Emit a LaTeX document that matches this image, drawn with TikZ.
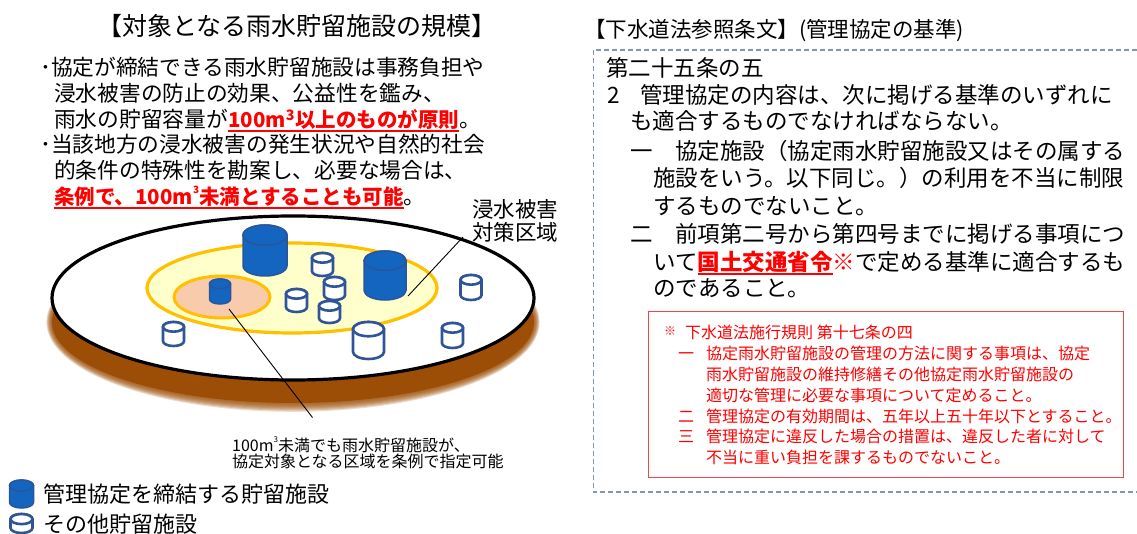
\documentclass[tikz,border=0pt]{standalone}
\usepackage{fontspec}
\usepackage{graphicx}
\setmainfont{Noto Sans CJK JP}

\definecolor{tankfill}{RGB}{20,101,192}
\definecolor{tankedge}{RGB}{40,86,156}
\definecolor{emptyedge}{RGB}{47,85,151}
\definecolor{soil}{RGB}{156,78,6}
\definecolor{zonefill}{RGB}{255,255,204}
\definecolor{zoneedge}{RGB}{255,192,0}
\definecolor{corefill}{RGB}{248,203,173}
\definecolor{frameblue}{RGB}{132,151,176}
\definecolor{noteedge}{RGB}{240,70,70}

% underline drawn as a rule under the text, in the current colour
\newsavebox\ulbox
\newcommand\ulred[1]{\sbox\ulbox{#1}\rlap{\rule[-0.2em]{\wd\ulbox}{0.09em}}\usebox\ulbox}
\newcommand\redbf[1]{{\color{red}\bfseries #1}}
\newcommand\cubic[1]{\raisebox{0.55em}{\fontsize{#1}{#1}\selectfont 3}}

% storage tank: style, centre x, top y, bottom y, width
\newcommand\tank[5]{%
  \pgfmathsetmacro\tankrx{#5/2}%
  \pgfmathsetmacro\tankry{#5*0.23}%
  \filldraw[#1] ({#2-\tankrx},{#3+\tankry}) -- ({#2-\tankrx},{#4-\tankry})
    arc[start angle=180,end angle=0,x radius=\tankrx,y radius=\tankry]
    -- ({#2+\tankrx},{#3+\tankry})
    arc[start angle=0,end angle=-180,x radius=\tankrx,y radius=\tankry] -- cycle;
  \filldraw[#1] (#2,{#3+\tankry}) ellipse[x radius=\tankrx,y radius=\tankry];
}

\tikzset{
  lbl/.style={inner sep=0pt, anchor=base west},
  ttl/.style={inner sep=0pt, anchor=base, font=\fontsize{25}{25}\selectfont},
  body/.style={lbl, font=\fontsize{21.7}{21.7}\selectfont},
  law/.style={lbl, font=\fontsize{22.5}{22.5}\selectfont},
  note/.style={lbl, font=\fontsize{16}{16}\selectfont, text=red},
  small/.style={lbl, font=\fontsize{16}{16}\selectfont},
  key/.style={lbl, font=\fontsize{22}{22}\selectfont},
  full/.style={fill=tankfill, draw=tankedge, line width=1.5pt},
  hollow/.style={fill=white, draw=emptyedge, line width=2.6pt},
  leader/.style={draw=black, line width=0.9pt},
}

\begin{document}
\begin{tikzpicture}[x=1pt,y=-1pt]
\useasboundingbox (0,0) rectangle (1137,534);

% ---------- left: scale of facilities ----------
\node[ttl] (title) at (297,36) {【対象となる雨水貯留施設の規模】};

\node[body] (l1) at (40,75.8) {･協定が締結できる雨水貯留施設は事務負担や};
\node[body] (l2) at (54,101.8) {浸水被害の防止の効果、公益性を鑑み、};
\node[body] (l3) at (54,127.8) {雨水の貯留容量が};
\node[body] (l3r) at (l3.base east) {\redbf{\fontsize{20.5}{20.5}\selectfont\ulred{100m\textsuperscript{3}以上のものが原則}}};
\node[body] (l3e) at (l3r.base east) {。};
\node[body] (l4) at (40,152.8) {･当該地方の浸水被害の発生状況や自然的社会};
\node[body] (l5) at (54,178.8) {的条件の特殊性を勘案し、必要な場合は、};
\node[body] (l6r) at (54,204.8) {\redbf{\fontsize{20.5}{20.5}\selectfont\ulred{条例で、100m\cubic{10}未満とすることも可能}}};
\node[body] (l6e) at (l6r.base east) {。};

% ground disc with soft brown base
\foreach \k in {8,7,...,1}
  \fill[soil, opacity=0.2] (293,322) ellipse[x radius={241+0.7*\k}, y radius={81+1.1*\k}];
\fill[soil] (293,322) ellipse[x radius=241, y radius=81];
\filldraw[fill=white, draw=black, line width=3.2pt] (293,298) ellipse[x radius=241, y radius=82];

% flood control area and the smaller ordinance area
\filldraw[fill=zonefill, draw=zoneedge, line width=3.2pt] (292,288) ellipse[x radius=145, y radius=45];
\filldraw[fill=corefill, draw=zoneedge, line width=3pt] (222,297) ellipse[x radius=48, y radius=21];

% tanks under agreement
\tank{full}{265}{225}{276}{44}
\tank{full}{385}{251}{300}{42}
\tank{full}{220}{279}{304}{21}
% other tanks
\tank{hollow}{322.5}{253}{276}{21}
\tank{hollow}{334.5}{277}{300}{21}
\tank{hollow}{296.5}{289}{312}{21}
\tank{hollow}{329.5}{301}{323}{21}
\tank{hollow}{471}{275}{300}{21}
\tank{hollow}{452.5}{323}{348}{21}
\tank{hollow}{173.5}{322}{346}{21}
\tank{hollow}{368.5}{322}{359}{31}

% area label and leaders
\node[body, font=\fontsize{21.5}{21.5}\selectfont] (zone1) at (472,217.7) {浸水被害};
\node[body, font=\fontsize{21.5}{21.5}\selectfont] (zone2) at (472,240.7) {対策区域};
\coordinate (zoneFoot) at (463,237);
\coordinate (zoneTip) at (408,296);
\draw[leader] (zoneFoot) -- (zoneTip);

\coordinate (coreTip) at (229,309);
\coordinate (coreFoot) at (312.5,417.5);
\draw[leader] (coreTip) -- (coreFoot);
\node[small] (under1) at (232,451.6) {100m\cubic{8}未満でも雨水貯留施設が、};
\node[small] (under2) at (232,467.6) {協定対象となる区域を条例で指定可能};

% legend
\tank{full}{21.5}{480}{508}{24}
\node[key] (key1) at (43,502) {管理協定を締結する貯留施設};
\tank{hollow}{21.5}{514}{533}{22}
\node[key] (key2) at (43,532) {その他貯留施設};

% ---------- right: Sewerage Act ----------
\node[lbl, font=\fontsize{21.5}{21.5}\selectfont] (lawhead) at (584,37.7) {【下水道法参照条文】(管理協定の基準)};
\draw[frameblue, line width=1.2pt, dash pattern=on 5pt off 3pt]
  (1145,50) -- (593.5,50) -- (593.5,492) -- (1145,492);

\node[law] (art) at (606,76.1) {第二十五条の五};
\node[law] (p2num) at (607,103.1) {2};
\node[law] (p2) at (640,103.1) {管理協定の内容は、次に掲げる基準のいずれに};
\node[law] (p2b) at (630,129.6) {も適合するものでなければならない。};
\node[law] (i1num) at (630,159.1) {一};
\node[law] (i1) at (675,159.1) {協定施設（協定雨水貯留施設又はその属する};
\node[law] (i1b) at (653,186.6) {施設をいう。以下同じ。）の利用を不当に制限};
\node[law] (i1c) at (653,214.1) {するものでないこと。};
\node[law] (i2num) at (630,242.6) {二};
\node[law] (i2) at (675,242.6) {前項第二号から第四号までに掲げる事項につ};
\node[law] (i2b) at (653,270.1) {いて\redbf{\ulred{国土交通省令}}{\color{red}※}で定める基準に適合するも};
\node[law] (i2c) at (653,296.1) {のであること。};

% ordinance note
\draw[noteedge, line width=1pt] (648.5,312) rectangle (1123.5,477);
\node[note, font=\fontsize{12}{12}\selectfont] (nmark) at (664,335) {※};
\node[note] (nhead) at (685,338.8) {下水道法施行規則 第十七条の四};
\node[note] (n1num) at (678,359.8) {一};
\node[note] (n1) at (706,359.8) {協定雨水貯留施設の管理の方法に関する事項は、協定};
\node[note] (n1b) at (706,380.8) {雨水貯留施設の維持修繕その他協定雨水貯留施設の};
\node[note] (n1c) at (706,401.8) {適切な管理に必要な事項について定めること。};
\node[note] (n2num) at (678,422.3) {二};
\node[note] (n2) at (706,422.3) {管理協定の有効期間は、五年以上五十年以下とすること。};
\node[note] (n3num) at (678,442.8) {三};
\node[note] (n3) at (706,442.8) {管理協定に違反した場合の措置は、違反した者に対して};
\node[note] (n3b) at (706,463.8) {不当に重い負担を課するものでないこと。};
\end{tikzpicture}
\end{document}
